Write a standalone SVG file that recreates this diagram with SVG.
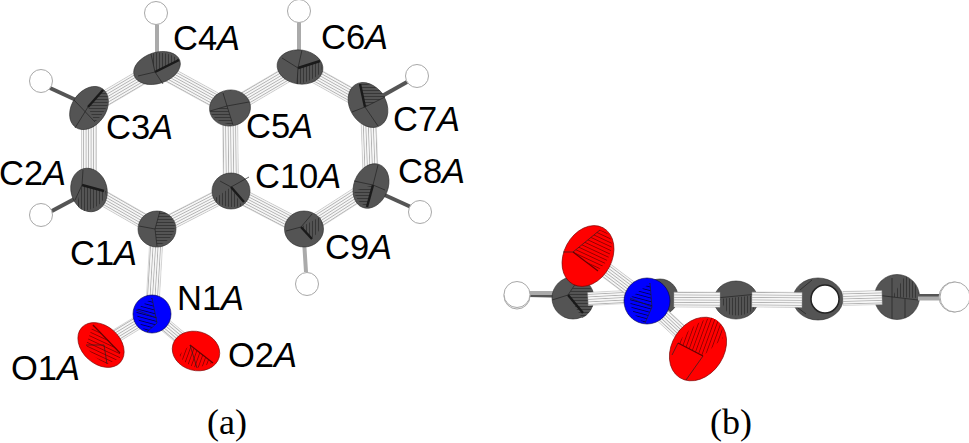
<svg xmlns="http://www.w3.org/2000/svg" width="969" height="443" viewBox="0 0 969 443">
<style>
.lab{font-family:"Liberation Sans",Arial,sans-serif;font-size:34.500px;fill:#000}
.lab tspan{font-style:italic}
.cap{font-family:"Liberation Serif","Times New Roman",serif;font-size:36px;fill:#000;text-anchor:middle}
.c{fill:#545454;stroke:#2a2a2a;stroke-width:.6}
.o{fill:#f00;stroke:#700;stroke-width:.6}
.n{fill:#00f;stroke:#004;stroke-width:.6}
.h{fill:#fff;stroke:#a8a8a8;stroke-width:1}
.th{fill:none;stroke:#222;stroke-width:.7}
.tk{fill:none;stroke:#1a1a1a;stroke-width:2.4}
.tko{fill:none;stroke:#600;stroke-width:1.2}
.hb{stroke:#555;stroke-width:4;fill:none}
.hl{stroke:#aaa;stroke-width:4;fill:none}
.b{fill:url(#st);stroke:#aaa;stroke-width:.4}
</style>
<defs>
<pattern id="st" width="10" height="2.500" patternUnits="userSpaceOnUse"><rect width="10" height="2.500" fill="#f6f6f6"/><rect width="10" height=".7" fill="#a6a6a6"/></pattern>
<pattern id="hv" width="3" height="10" patternUnits="userSpaceOnUse"><rect width="3" height="10" fill="#545454"/><rect width=".7" height="10" fill="#2a2a2a"/></pattern>
<pattern id="hh" width="10" height="3" patternUnits="userSpaceOnUse"><rect width="10" height="3" fill="#545454"/><rect width="10" height=".7" fill="#2a2a2a"/></pattern>
<pattern id="rh" width="10" height="3.500" patternUnits="userSpaceOnUse" patternTransform="rotate(25)"><rect width="10" height="3.500" fill="#f00"/><rect width="10" height=".7" fill="#700"/></pattern>
<pattern id="rv" width="3.500" height="10" patternUnits="userSpaceOnUse" patternTransform="rotate(20)"><rect width="3.500" height="10" fill="#f00"/><rect width=".7" height="10" fill="#700"/></pattern>
<pattern id="bh" width="10" height="3.500" patternUnits="userSpaceOnUse" patternTransform="rotate(15)"><rect width="10" height="3.500" fill="#00f"/><rect width="10" height=".7" fill="#003"/></pattern>
</defs>

<g id="connectors">
<rect class="b" x="0" y="-7.500" width="79" height="15" transform="translate(157 68) rotate(149.5)"/>
<rect class="b" x="0" y="-7.500" width="82" height="15" transform="translate(89 108) rotate(90)"/>
<rect class="b" x="0" y="-7.500" width="78" height="15" transform="translate(89 190) rotate(29.8)"/>
<rect class="b" x="0" y="-7.500" width="83" height="15" transform="translate(157 229) rotate(-27.2)"/>
<rect class="b" x="0" y="-7.500" width="83" height="15" transform="translate(231 191) rotate(-90.7)"/>
<rect class="b" x="0" y="-7.500" width="83" height="15" transform="translate(230 108) rotate(208.7)"/>
<rect class="b" x="0" y="-7.500" width="81" height="15" transform="translate(230 108) rotate(-30.4)"/>
<rect class="b" x="0" y="-7.500" width="78" height="15" transform="translate(300 67) rotate(29.2)"/>
<rect class="b" x="0" y="-7.500" width="81" height="15" transform="translate(368 105) rotate(87.9)"/>
<rect class="b" x="0" y="-7.500" width="80" height="15" transform="translate(371 186) rotate(147.3)"/>
<rect class="b" x="0" y="-7.500" width="82" height="15" transform="translate(304 229) rotate(207.5)"/>
<rect class="b" x="0" y="-6.500" width="85" height="13" transform="translate(157 229) rotate(93.4)"/>
<rect class="b" x="0" y="-6.500" width="60" height="13" transform="translate(152 314) rotate(148.7)"/>
<rect class="b" x="0" y="-6.500" width="57" height="13" transform="translate(152 314) rotate(40)"/>
<path class="hl" d="M157 60V22"/>
<path class="hb" d="M89 106L50 88"/>
<path class="hb" d="M80 196L50 212"/>
<path class="hl" d="M299 60V22"/>
<path class="hb" d="M375 100L407 82"/>
<path class="hb" d="M378 192L411 207"/>
<path class="hl" d="M304 240L306 272"/>
<path class="hb" d="M573 296L528 295"/>
<path class="hl" d="M573 293L528 293"/>
</g>

<g id="C4A"><ellipse class="c" cx="157" cy="68" rx="24" ry="15.500" transform="rotate(-18 157 68)"/><path fill="url(#hv)" d="M155 72L151 54Q167 50 179 60Z"/><path class="tk" d="M155 72L179 60"/><path class="th" d="M138 76L155 72L163 84M151 54L155 72"/></g>
<g id="C3A"><ellipse class="c" cx="89" cy="108" rx="23.500" ry="17" transform="rotate(-55 89 108)"/><path fill="url(#hh)" d="M88 107L103 90Q110 96 107 106Q103 115 95 122Z"/><path class="tk" d="M88 107L103 90"/><path class="th" d="M75 128L88 107M74 100L95 122"/></g>
<g id="C2A"><ellipse class="c" cx="89" cy="190" rx="22" ry="18" transform="rotate(75 89 190)"/><path fill="url(#hv)" d="M82 185L106 191Q104 207 85 211Q75 208 78 200Z"/><path class="tk" d="M82 185L104 191"/><path class="th" d="M83 170L82 185L75 200"/></g>
<g id="C1A"><ellipse class="c" cx="157" cy="229" rx="19" ry="18"/><path fill="url(#hh)" d="M155 229L160 211Q172 214 175 226Q174 240 157 246Z"/><path class="th" d="M155 229L160 211M155 229L157 246M155 229L139 226"/></g>
<g id="C5A"><ellipse class="c" cx="230" cy="108" rx="20.500" ry="18" transform="rotate(-8 230 108)"/><path fill="url(#hh)" d="M227 106L210 111Q214 122 233 125Z"/><path class="th" d="M223 93L227 106L233 125M210 111L227 106L249 102"/></g>
<g id="C10A"><ellipse class="c" cx="231" cy="191" rx="19" ry="18"/><path fill="url(#hv)" d="M231 187L214 199Q222 210 242 206Z"/><path class="tk" d="M231 187L244 202"/><path class="th" d="M220 181L231 187L249 177"/></g>
<g id="C6A"><ellipse class="c" cx="300" cy="67" rx="23" ry="17" transform="rotate(8 300 67)"/><path fill="url(#hv)" d="M298 68L320 61Q325 72 314 78Q306 83 297 84Z"/><path class="tk" d="M298 68L320 61"/><path class="th" d="M282 58L298 68L302 50M298 68L297 84"/></g>
<g id="C7A"><ellipse class="c" cx="368" cy="105" rx="24" ry="18" transform="rotate(58 368 105)"/><path fill="url(#hh)" d="M365 107L360 83Q378 84 385 97Z"/><path class="tk" d="M365 107L360 84"/><path class="th" d="M352 112L365 107L385 97M365 107L378 126"/></g>
<g id="C8A"><ellipse class="c" cx="371" cy="186" rx="23" ry="17" transform="rotate(-68 371 186)"/><path fill="url(#hh)" d="M373 185L354 191Q356 202 367 207Z"/><path class="tk" d="M373 185L367 207"/><path class="th" d="M354 181L373 185L385 190M373 185L378 165"/></g>
<g id="C9A"><ellipse class="c" cx="304" cy="229" rx="19.500" ry="18"/><path fill="url(#hv)" d="M301 227L320 217Q325 228 312 238Z"/><path class="tk" d="M301 227L312 239"/><path class="th" d="M286 231L301 227L312 214"/></g>

<g id="H4"><circle class="h" cx="156" cy="13" r="11.500"/></g>
<g id="H3"><circle class="h" cx="41" cy="81" r="11.500"/></g>
<g id="H2"><circle class="h" cx="41" cy="215" r="11.500"/></g>
<g id="H6"><circle class="h" cx="299" cy="11" r="11.500"/></g>
<g id="H7"><circle class="h" cx="417" cy="76" r="11.500"/></g>
<g id="H8"><circle class="h" cx="420" cy="212" r="11.500"/></g>
<g id="H9"><circle class="h" cx="307" cy="284" r="11.500"/></g>

<g id="N1A"><circle class="n" cx="152" cy="314" r="19"/><path fill="url(#bh)" d="M136 310L152 298L157 323L147 332Q138 325 136 310Z"/><path class="th" d="M136 310L157 318M152 298L157 323L147 332"/></g>
<g id="O1A"><ellipse class="o" cx="101" cy="345" rx="26" ry="19" transform="rotate(42 101 345)"/><path fill="url(#rh)" d="M93 325L86 345Q92 358 107 364L120 358L120 352Z"/><path class="tko" d="M93 325L120 353"/><path class="th" d="M86 345L104 345M107 364L104 345"/></g>
<g id="O2A"><ellipse class="o" cx="196" cy="351" rx="24" ry="19.500" transform="rotate(15 196 351)"/><path fill="url(#rv)" d="M190 345L179 355Q184 364 197 368L213 363Z"/><path class="tko" d="M190 345L213 363"/><path class="th" d="M190 345L197 368"/></g>

<g id="molecule-b">
<g id="bH1"><circle class="h" cx="517" cy="296" r="13"/><circle class="h" cx="517" cy="294.500" r="13"/></g>
<g id="bC1"><circle class="c" cx="573" cy="298" r="21"/><path fill="url(#hh)" d="M568 295L578 282Q594 285 594 298Q594 312 582 318Z"/><path class="tk" d="M568 295L583 313"/><path class="th" d="M552 300L568 295L578 280"/></g>
<rect class="b" x="0" y="-6.500" width="55" height="13" transform="translate(588 299) rotate(-3)"/>
<g id="bC2"><circle class="c" cx="660" cy="297" r="18"/></g>
<rect class="b" x="0" y="-7.500" width="74" height="15" transform="translate(647 301) rotate(217)"/>
<g id="bO1"><ellipse class="o" cx="588" cy="256" rx="32" ry="24" transform="rotate(-62 588 256)"/><path fill="url(#rh)" d="M573 252L600 230Q611 232 612 245Q610 262 598 270Z"/><path class="tko" d="M573 252L598 271"/><path class="th" d="M563 252L573 252L600 230"/></g>
<g id="bC3"><ellipse class="c" cx="736" cy="300" rx="22" ry="19"/><path fill="url(#hv)" d="M720 299L758 295Q758 308 750 312Q740 318 728 314Z"/><path class="th" d="M716 298L758 294"/></g>
<rect class="b" x="0" y="-7.500" width="46" height="15" transform="translate(674 299.500) rotate(.3)"/>
<g id="bC4"><ellipse class="c" cx="818" cy="299" rx="25" ry="21"/><path class="th" d="M800 290L812 280M794 305L806 314"/><circle cx="825" cy="299" r="14" fill="#fff" stroke="#222" stroke-width="1.500"/></g>
<rect class="b" x="0" y="-7.500" width="50" height="15" transform="translate(752 299.500) rotate(.5)"/>
<g id="bC5"><circle class="c" cx="897" cy="297" r="22.500"/><path fill="url(#hv)" d="M892 297L905 276Q918 282 919 298Z"/><path class="th" d="M876 295L918 300M892 278V319M905 299L905 318"/></g>
<rect class="b" x="0" y="-7" width="39" height="14" transform="translate(843 298.500) rotate(-1.500)"/>
<path class="hb" d="M918 296L942 296" stroke-width="2.500"/>
<path class="hl" d="M918 298.500L942 298.500" stroke-width="2.500"/>
<g id="bH2"><circle class="h" cx="954" cy="297" r="15"/><circle class="h" cx="955" cy="297" r="15"/></g>
<rect class="b" x="0" y="-7.500" width="72" height="15" transform="translate(647 301) rotate(43)"/>
<g id="bN"><circle class="n" cx="647" cy="301" r="23"/><path fill="url(#bh)" d="M630 298L650 283L652 307L645 323Q630 315 630 298Z"/><path class="th" d="M630 298L652 307L645 323M650 283L652 307"/></g>
<g id="bO2"><ellipse class="o" cx="698" cy="349" rx="34" ry="26" transform="rotate(-57 698 349)"/><path fill="url(#rv)" d="M678 343L703 356L723 338Q724 322 712 318Q695 320 678 343Z"/><path class="tko" d="M678 343L703 356"/><path class="th" d="M703 356L686 380M678 343L672 355"/></g>
</g>

<g id="labels">
<text class="lab" x="173" y="50">C4<tspan>A</tspan></text>
<text class="lab" x="106" y="139">C3<tspan>A</tspan></text>
<text class="lab" x="-1" y="185">C2<tspan>A</tspan></text>
<text class="lab" x="70" y="265">C1<tspan>A</tspan></text>
<text class="lab" x="177" y="310">N1<tspan>A</tspan></text>
<text class="lab" x="228" y="367">O2<tspan>A</tspan></text>
<text class="lab" x="11" y="380">O1<tspan>A</tspan></text>
<text class="lab" x="246" y="138">C5<tspan>A</tspan></text>
<text class="lab" x="255" y="188">C10<tspan>A</tspan></text>
<text class="lab" x="321" y="49">C6<tspan>A</tspan></text>
<text class="lab" x="393" y="131">C7<tspan>A</tspan></text>
<text class="lab" x="398" y="183">C8<tspan>A</tspan></text>
<text class="lab" x="325" y="259">C9<tspan>A</tspan></text>
<text class="cap" x="227" y="434">(a)</text>
<text class="cap" x="731" y="434">(b)</text>
</g>
</svg>
